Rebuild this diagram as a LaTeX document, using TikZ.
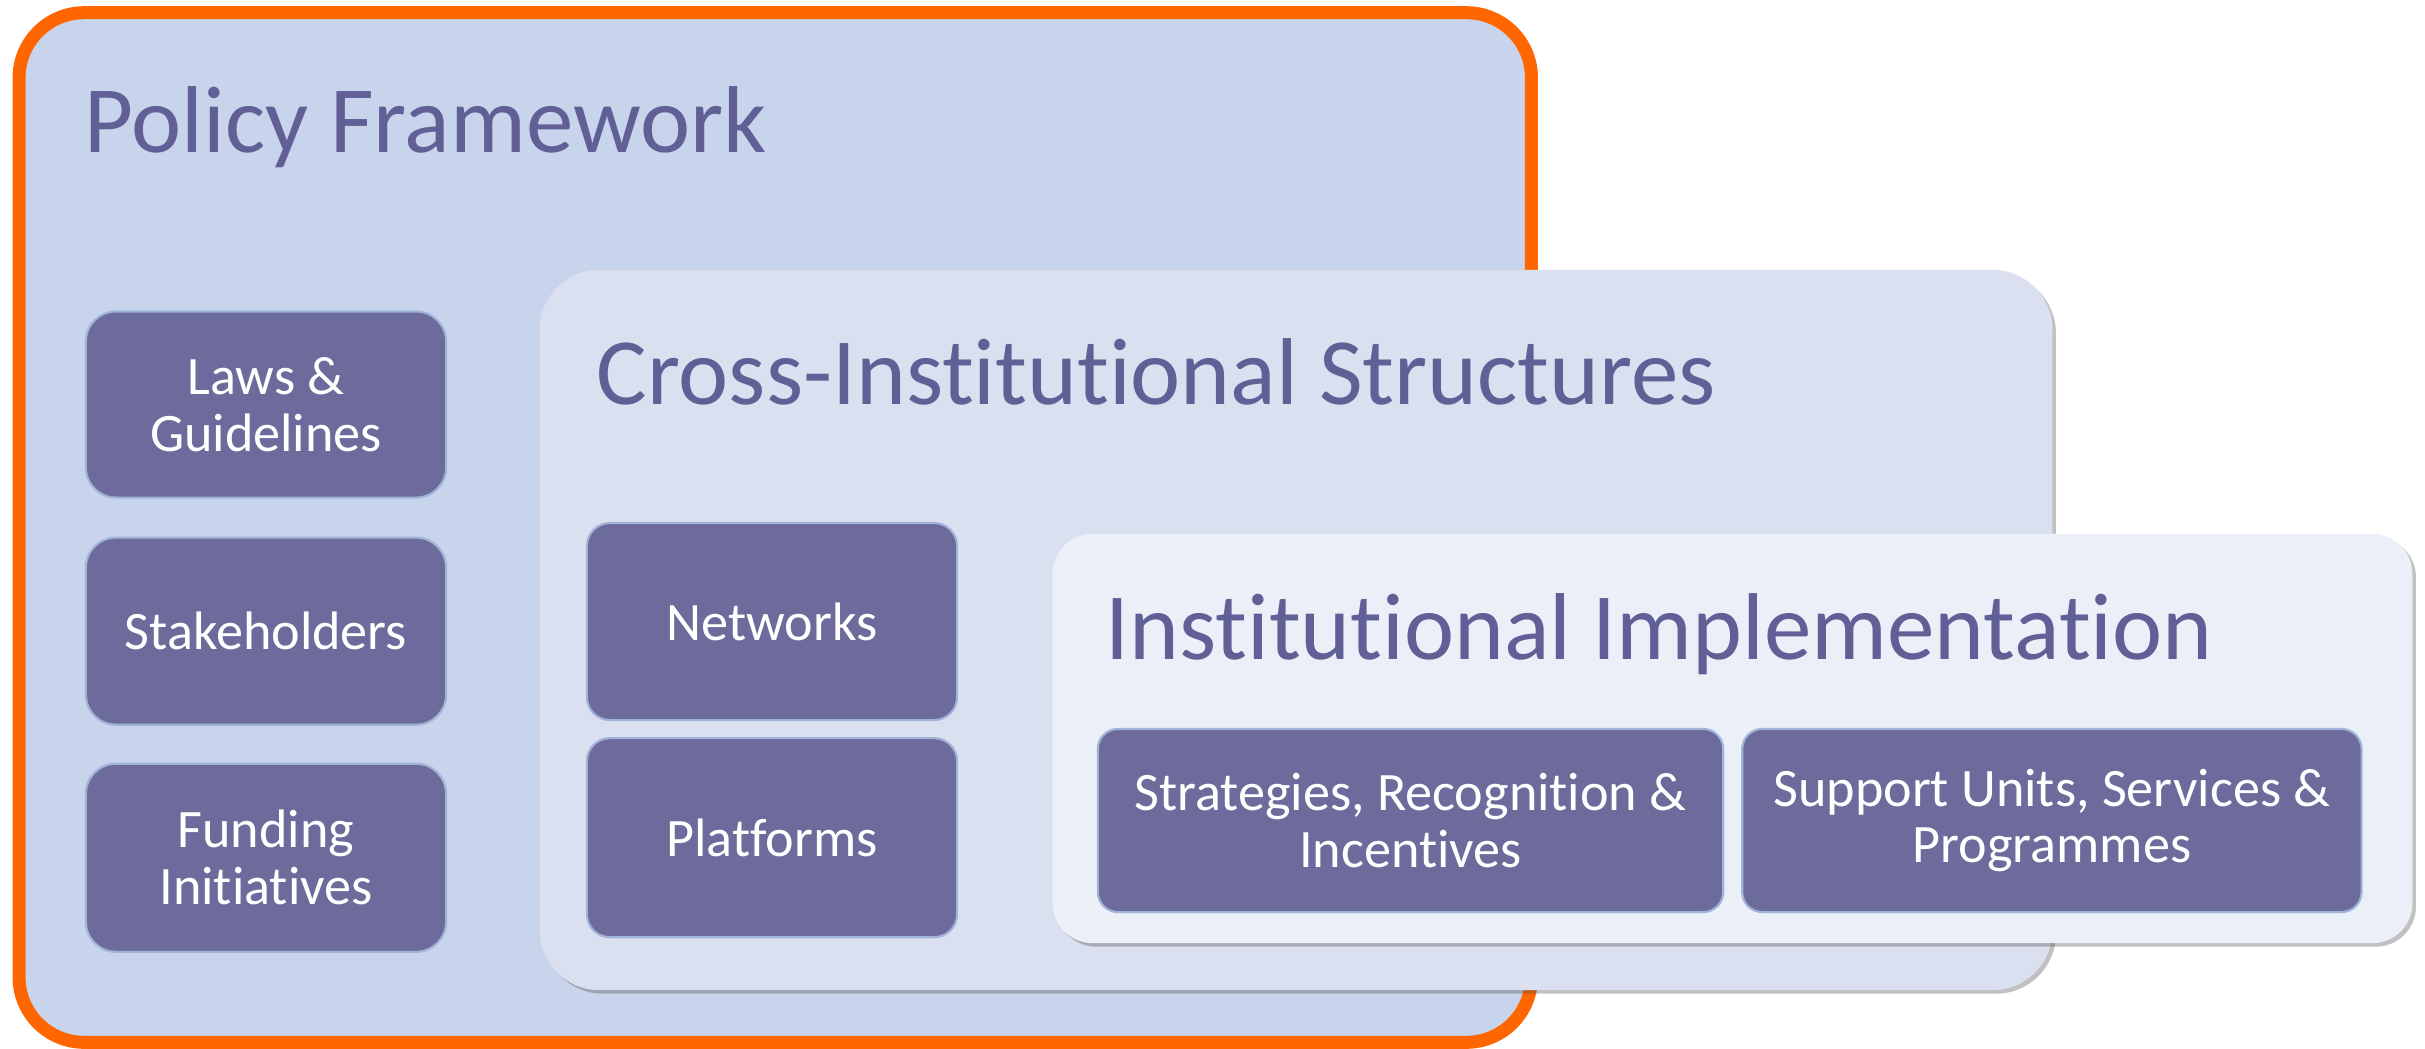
\documentclass[tikz,border=0pt]{standalone}
\usepackage{fontspec}
\setmainfont{Carlito}[Ligatures={NoCommon,NoContextual}]
\usepackage{xcolor}
\usepackage{tikz}
\usetikzlibrary{positioning, shadows}
\definecolor{policyfill}{RGB}{200,212,235}
\definecolor{crossfill}{RGB}{218,224,240}
\definecolor{instfill}{RGB}{234,239,248}
\definecolor{itemfill}{RGB}{108,107,156}
\definecolor{itemline}{RGB}{160,180,216}
\definecolor{titlecol}{RGB}{96,95,150}
\definecolor{frameorange}{RGB}{255,102,0}
\tikzset{
    layer/.style={rectangle, outer sep=0pt, inner sep=0pt, drop shadow={shadow xshift=0.035cm, shadow yshift=-0.035cm, opacity=0.35, fill=black!70}},
    layertitle/.style={anchor=base west, inner sep=0pt, text=titlecol, font=\fontsize{27pt}{32pt}\selectfont},
    item/.style={rectangle, draw=itemline, line width=0.6pt, fill=itemfill, text=white, outer sep=0pt, inner sep=0pt, align=center, font=\fontsize{15.4pt}{16.2pt}\selectfont}
}
\begin{document}
\begin{tikzpicture}[x=0.01cm, y=-0.01cm]
            \useasboundingbox (0,0) rectangle (2425,1048);

            % outer layer
            \node (policy) [layer, fill=policyfill, draw=frameorange, line width=0.13cm, rounded corners=0.65cm, minimum width=15.115cm, minimum height=10.29cm] at (775.25,527.5) {};
            \node (policytitle) [layertitle] at (84,152) {Policy Framework};

            \node (laws) [item, rounded corners=0.3cm, minimum width=3.6cm, minimum height=1.86cm] at (266,404.5) {Laws \&\\Guidelines};
            \node (stake) [item, rounded corners=0.3cm, minimum width=3.6cm, minimum height=1.87cm, below=0.4cm of laws] {Stakeholders};
            \node (fund) [item, rounded corners=0.3cm, minimum width=3.6cm, minimum height=1.88cm, below=0.39cm of stake] {Funding\\Initiatives};

            % middle layer
            \node (cross) [layer, fill=crossfill, rounded corners=0.6cm, minimum width=15.12cm, minimum height=7.2cm] at (1296,630) {};
            \node (crosstitle) [layertitle] at (596,404) {Cross-Institutional Structures};

            \node (networks) [item, rounded corners=0.23cm, minimum width=3.7cm, minimum height=1.97cm] at (772,621.5) {Networks};
            \node (platforms) [item, rounded corners=0.23cm, minimum width=3.7cm, minimum height=1.99cm, below=0.18cm of networks] {Platforms};

            % inner layer
            \node (inst) [layer, fill=instfill, rounded corners=0.4cm, minimum width=13.59cm, minimum height=4.09cm] at (1732.5,738.5) {};
            \node (insttitle) [layertitle] at (1105,659) {Institutional Implementation};

            \node (strat) [item, rounded corners=0.2cm, minimum width=6.25cm, minimum height=1.83cm] at (1410.5,820.5) {Strategies, Recognition \&\\Incentives};
            \node (support) [item, rounded corners=0.2cm, minimum width=6.19cm, minimum height=1.83cm, right=0.19cm of strat] {Support Units, Services \&\\Programmes};
        \end{tikzpicture}
\end{document}
